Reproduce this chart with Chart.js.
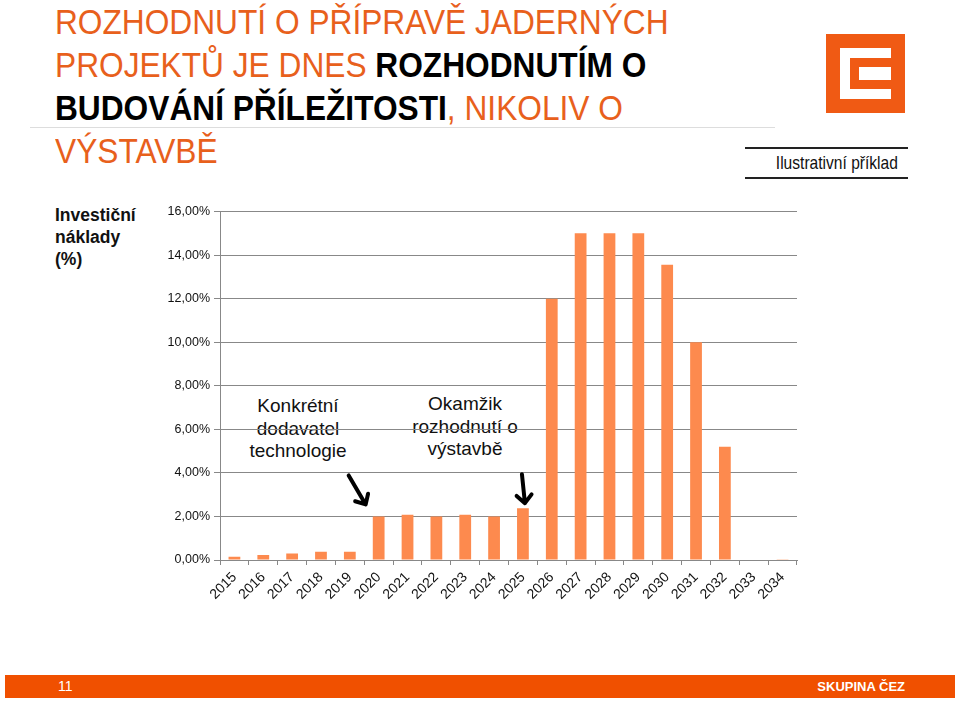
<!DOCTYPE html>
<html>
<head>
<meta charset="utf-8">
<script src="https://cdn.jsdelivr.net/npm/chart.js@4"></script>
<style>
  body { margin: 0; width: 960px; height: 701px; background: #fff; position: relative; overflow: hidden; font-family: "Liberation Sans", Arial, sans-serif; }
  .titulek { position: absolute; left: 55px; top: 0px; font-size: 35px; line-height: 43px; color: #e8601c; white-space: nowrap; transform: scaleX(0.905); transform-origin: 0 0; }
  .titulek b { color: #000; }
  .cara { position: absolute; left: 30px; top: 127px; width: 745px; height: 1px; background: #ddd; }
  .logo { position: absolute; left: 826px; top: 34px; width: 79px; height: 79px; background: #f05a14; }
  .logo div { position: absolute; background: #fff; }
  .priklad { position: absolute; left: 745px; top: 147px; width: 163px; height: 28px; border-top: 2px solid #222; border-bottom: 2px solid #222; }
  .priklad span { position: absolute; right: 10px; top: 0; font-size: 19px; line-height: 28px; color: #111; white-space: nowrap; transform: scaleX(0.82); transform-origin: 100% 0; }
  .osa { position: absolute; left: 55px; top: 204px; font-weight: bold; font-size: 17.5px; line-height: 22px; color: #111; }
  .pozn { position: absolute; font-size: 19px; line-height: 22.5px; text-align: center; color: #111; }
  #graf { position: absolute; left: 150px; top: 200px; }
  .paticka { position: absolute; left: 5px; top: 675px; width: 950px; height: 23px; background: #f05000; color: #fff; }
  .paticka .cislo { position: absolute; left: 53px; top: 3px; font-size: 14px; }
  .paticka .firma { position: absolute; right: 50px; top: 4px; font-size: 13px; font-weight: bold; }
</style>
</head>
<body>
<div class="titulek">ROZHODNUTÍ O PŘÍPRAVĚ JADERNÝCH<br>PROJEKTŮ JE DNES <b>ROZHODNUTÍM O</b><br><b>BUDOVÁNÍ PŘÍLEŽITOSTI</b>, NIKOLIV O<br>VÝSTAVBĚ</div>
<div class="cara"></div>
<div class="logo">
  <div style="left:14px;top:14px;width:51px;height:10px"></div>
  <div style="left:14px;top:14px;width:10px;height:51px"></div>
  <div style="left:14px;top:55px;width:51px;height:10px"></div>
  <div style="left:33px;top:33px;width:32px;height:13px"></div>
</div>
<div class="priklad"><span>Ilustrativní příklad</span></div>
<div class="osa">Investiční<br>náklady<br>(%)</div>
<div class="pozn" style="left:233px;top:395px;width:130px">Konkrétní<br>dodavatel<br>technologie</div>
<div class="pozn" style="left:395px;top:393px;width:140px">Okamžik<br>rozhodnutí o<br>výstavbě</div>
<canvas id="graf" width="660" height="410"></canvas>
<div class="paticka"><span class="cislo">11</span><span class="firma">SKUPINA ČEZ</span></div>

<script>
"use strict"

const roky = ['2015', '2016', '2017', '2018', '2019', '2020', '2021', '2022', '2023', '2024',
              '2025', '2026', '2027', '2028', '2029', '2030', '2031', '2032', '2033', '2034'];
const naklady = [0.15, 0.23, 0.3, 0.38, 0.38, 2.0, 2.08, 2.0, 2.08, 2.0,
                 2.38, 12.0, 15.0, 15.0, 15.0, 13.55, 10.0, 5.2, 0.02, 0.03];
// sipky: na ktery rok ukazuji (posun hrotu od vrcholu sloupce, smer k patce)
const sipky = [
    { rok: '2020', ox: -13, oy: -12, dx: -17, dy: -29 },
    { rok: '2025', ox: 2, oy: -5, dx: -3, dy: -29 }
];

// vykresli sipky nad sloupci
const sipkyPlugin = {
    id: 'sipky',
    afterDraw(chart) {
        const ctx = chart.ctx;
        const x = chart.scales.x;
        const y = chart.scales.y;
        sipky.forEach(s => {
            const i = roky.indexOf(s.rok);
            const tx = x.getPixelForValue(i) + s.ox;
            const ty = y.getPixelForValue(naklady[i]) + s.oy;
            const sx = tx + s.dx, sy = ty + s.dy;
            const ang = Math.atan2(ty - sy, tx - sx);
            ctx.save();
            ctx.strokeStyle = '#000';
            ctx.lineWidth = 4;
            ctx.lineCap = 'round';
            ctx.lineJoin = 'round';
            ctx.beginPath();
            ctx.moveTo(sx, sy);
            ctx.lineTo(tx, ty);
            ctx.moveTo(tx - 11 * Math.cos(ang - 0.75), ty - 11 * Math.sin(ang - 0.75));
            ctx.lineTo(tx, ty);
            ctx.lineTo(tx - 11 * Math.cos(ang + 0.75), ty - 11 * Math.sin(ang + 0.75));
            ctx.stroke();
            ctx.restore();
        });
    }
};

new Chart(document.getElementById('graf'), {
    type: 'bar',
    data: {
        labels: roky,
        datasets: [{
            data: naklady,
            backgroundColor: '#fd8a4e',
            barPercentage: 0.85,
            categoryPercentage: 0.48
        }]
    },
    options: {
        responsive: false,
        animation: false,
        layout: { padding: { top: 9, right: 13, left: 0, bottom: 0 } },
        plugins: { legend: { display: false }, tooltip: { enabled: false } },
        scales: {
            x: {
                grid: { display: true, drawOnChartArea: false, offset: true, color: '#888', tickLength: 5 },
                border: { color: '#888' },
                ticks: {
                    color: '#111',
                    font: { family: 'Liberation Sans', size: 14 },
                    maxRotation: 45, minRotation: 45, padding: 4
                },
                afterFit: s => { s.height = 50; }
            },
            y: {
                min: 0, max: 16,
                grid: { color: '#888', tickLength: 6 },
                border: { color: '#888' },
                ticks: {
                    stepSize: 2,
                    color: '#111',
                    font: { family: 'Liberation Sans', size: 12.5 },
                    padding: 4,
                    callback: v => v.toFixed(2).replace('.', ',') + '%'
                },
                afterFit: s => { s.width = 70; }
            }
        }
    },
    plugins: [sipkyPlugin]
});
</script>
</body>
</html>
